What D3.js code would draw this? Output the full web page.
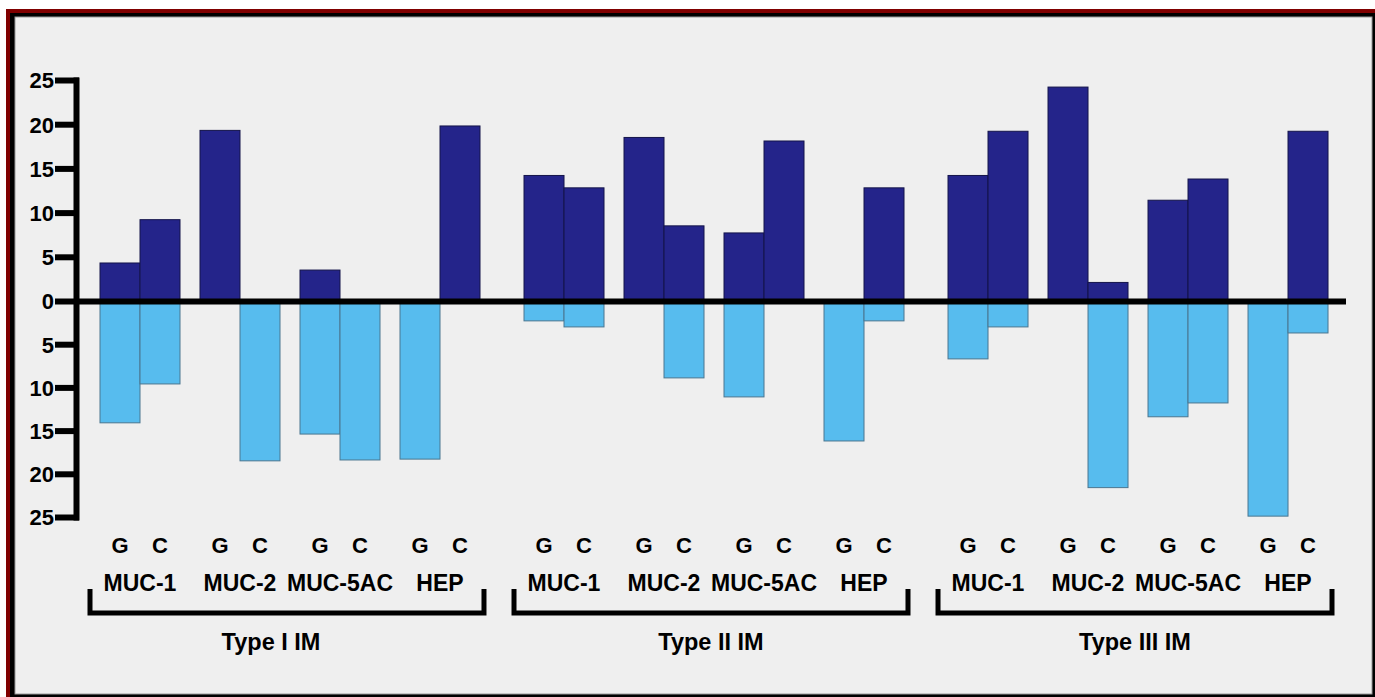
<!DOCTYPE html>
<html>
<head>
<meta charset="utf-8">
<script src="https://cdn.jsdelivr.net/npm/d3@7"></script>
<style>
    body { margin: 0; background: #fff; }
    svg { display: block; }
    text { font-family: "Liberation Sans", Arial, sans-serif; font-weight: bold; fill: #000; }
    .bar.up { fill: #24248a; stroke: #14144a; stroke-width: 1; }
    .bar.down { fill: #57bcee; stroke: #4a7690; stroke-width: 1; }
    .y.axis .domain, .y.axis .tick line { stroke: #000; stroke-width: 6; stroke-linecap: square; }
    .zero.line { stroke: #000; stroke-width: 6; }
    .bracket { fill: none; stroke: #000; stroke-width: 5; stroke-linejoin: miter; }
</style>
</head>
<body>
<svg id="chart" width="1375" height="697"></svg>
<script>
    // categories
    const types = ["Type I IM", "Type II IM", "Type III IM"];
    const genes = ["MUC-1", "MUC-2", "MUC-5AC", "HEP"];
    const sites = ["G", "C"];

    // values above the line (dark), per type, in gene/site order G,C,G,C...
    const upTypeI   = [4.3, 9.2, 19.3, 0, 3.5, 0, 0, 19.8];
    const upTypeII  = [14.2, 12.8, 18.5, 8.5, 7.7, 18.1, 0, 12.8];
    const upTypeIII = [14.2, 19.2, 24.2, 2.1, 11.4, 13.8, 0, 19.2];

    // values below the line (light)
    const downTypeI   = [14.1, 9.6, 0, 18.5, 15.4, 18.4, 18.3, 0];
    const downTypeII  = [2.3, 3.0, 0, 8.9, 11.1, 0, 16.2, 2.3];
    const downTypeIII = [6.7, 3.0, 0, 21.6, 13.4, 11.8, 24.9, 3.7];

    const yTicks = [-25, -20, -15, -10, -5, 0, 5, 10, 15, 20, 25];

    const upValues = [upTypeI, upTypeII, upTypeIII];
    const downValues = [downTypeI, downTypeII, downTypeIII];

    let rows = [];
    types.forEach((t, ti) => {
        genes.forEach((g, gi) => {
            sites.forEach((s, si) => {
                rows.push({type: t, gene: g, site: s,
                           up: upValues[ti][gi * 2 + si],
                           down: downValues[ti][gi * 2 + si]});
            });
        });
    });

    let svg = d3.select("#chart");

    // frame
    svg.append("rect").attr("x", 6).attr("y", 9).attr("width", 1369).attr("height", 688).attr("fill", "#800000");
    svg.append("rect").attr("x", 10).attr("y", 13).attr("width", 1365).attr("height", 684).attr("fill", "#000");
    svg.append("rect").attr("x", 15).attr("y", 17).attr("width", 1357).attr("height", 677)
        .attr("fill", "#efefef").attr("stroke", "#9a9a9a").attr("stroke-width", 1);

    let x0 = d3.scaleBand().domain(types).range([90, 1332]).paddingInner(0.0708);
    let x1 = d3.scaleBand().domain(genes).range([0, 400]).paddingInner(0.2).paddingOuter(0.1);
    let x2 = d3.scaleBand().domain(sites).range([0, x1.bandwidth()]);
    let y = d3.scaleLinear().domain([-25, 0, 25]).range([517, 301, 80]);

    let xOf = d => x0(d.type) + x1(d.gene) + x2(d.site);

    let chart = svg.append("g").attr("class", "chart");

    // bars
    chart.append("g").selectAll("rect.up").data(rows.filter(d => d.up > 0))
        .enter().append("rect")
            .attr("class", "bar up")
            .attr("x", xOf)
            .attr("width", x2.bandwidth())
            .attr("y", d => y(d.up))
            .attr("height", d => y(0) - y(d.up));

    chart.append("g").selectAll("rect.down").data(rows.filter(d => d.down > 0))
        .enter().append("rect")
            .attr("class", "bar down")
            .attr("x", xOf)
            .attr("width", x2.bandwidth())
            .attr("y", y(0))
            .attr("height", d => y(-d.down) - y(0));

    // zero line
    chart.append("line").attr("class", "zero line")
        .attr("x1", 76).attr("x2", 1346)
        .attr("y1", y(0) + 0.5).attr("y2", y(0) + 0.5);

    // y axis
    chart.append("g").attr("class", "y axis")
        .attr("transform", "translate(76,0)")
        .call(d3.axisLeft(y).tickValues(yTicks).tickFormat(d => Math.abs(d))
              .tickSizeInner(18).tickSizeOuter(0).tickPadding(4))
        .call(g => g.selectAll("text").attr("font-size", 22).attr("dy", "0.36em")
              .style("font-family", "'Liberation Sans', Arial, sans-serif").style("font-weight", "bold"));

    // G / C labels
    chart.append("g").selectAll("text").data(rows)
        .enter().append("text")
            .attr("x", d => xOf(d) + x2.bandwidth() / 2)
            .attr("y", 553)
            .attr("text-anchor", "middle")
            .attr("font-size", 22)
            .text(d => d.site);

    // gene labels
    let genePairs = [];
    types.forEach(t => genes.forEach(g => genePairs.push({type: t, gene: g})));
    chart.append("g").selectAll("text").data(genePairs)
        .enter().append("text")
            .attr("x", d => x0(d.type) + x1(d.gene) + x1.bandwidth() / 2)
            .attr("y", 591)
            .attr("text-anchor", "middle")
            .attr("font-size", 23)
            .text(d => d.gene);

    // brackets and type labels
    let groups = chart.append("g").selectAll("g").data(types).enter().append("g");
    groups.append("path").attr("class", "bracket")
        .attr("d", t => {
            let a = x0(t), b = x0(t) + x0.bandwidth();
            return "M" + a + ",589V613H" + b + "V589";
        });
    groups.append("text")
        .attr("x", t => x0(t) + x0.bandwidth() / 2)
        .attr("dx", (t, i) => i === 0 ? -16 : 0)
        .attr("y", 650)
        .attr("text-anchor", "middle")
        .attr("font-size", 23.5)
        .text(t => t);
</script>
</body>
</html>
